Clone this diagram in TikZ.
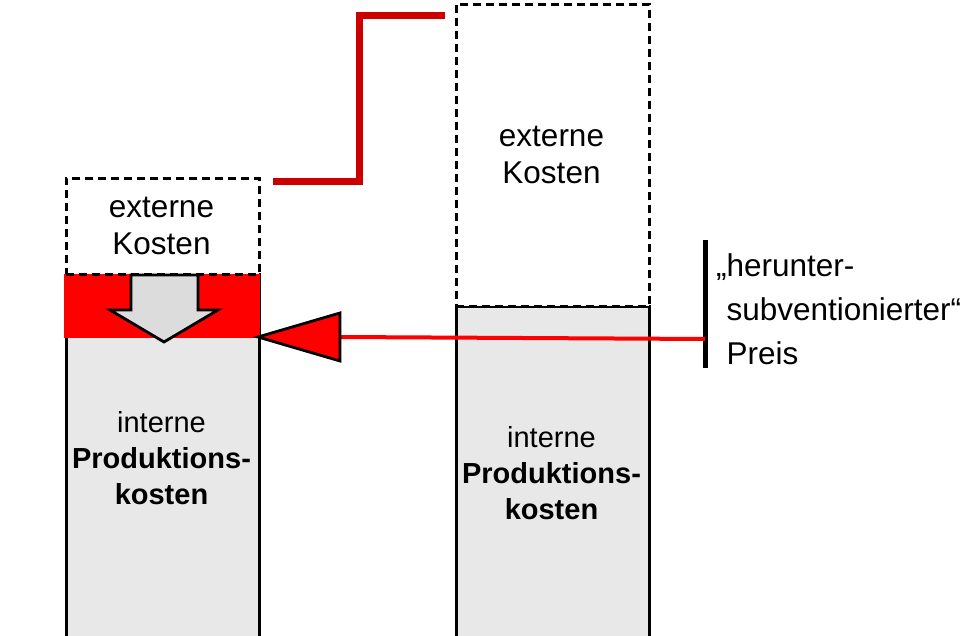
\documentclass[tikz,border=0pt]{standalone}
\usepackage{fontspec}
\setmainfont{Liberation Sans}
\definecolor{boxgray}{HTML}{E8E8E8}
\definecolor{arrowgray}{HTML}{DCDCDC}
\definecolor{stepred}{HTML}{CC0000}
\definecolor{brightred}{HTML}{FF0000}
\begin{document}
\begin{tikzpicture}[x=1pt,y=-1pt,
  graybox/.style={draw=black, line width=2.8pt, fill=boxgray, inner sep=0pt, anchor=north west},
  dashbox/.style={draw=black, line width=2.7pt, dash pattern=on 8pt off 5pt, fill=white, inner sep=0pt, anchor=north west},
  extxt/.style={font=\fontsize{31.5}{37}\selectfont, align=center},
  intxt/.style={font=\fontsize{29}{36}\selectfont, align=center},
  lbltxt/.style={font=\fontsize{31.5}{44}\selectfont, align=left, anchor=west}]
\useasboundingbox (0,0) rectangle (978,636);

% gray boxes (internal production costs)
\node[graybox, minimum width=193pt, minimum height=380pt] (lgray) at (65,273) {};
\node[graybox, minimum width=193pt, minimum height=350pt] (rgray) at (455,305) {};

% red band
\node[fill=brightred, inner sep=0pt, anchor=north west, minimum width=196pt, minimum height=64pt] (lred) at (63.5,274) {};

% dashed boxes (external costs)
\node[dashbox, minimum width=193pt, minimum height=96pt] (lext) at (65,177) {};
\node[dashbox, minimum width=193pt, minimum height=302pt] (rext) at (455,3) {};

% texts
\node[extxt] (lexttxt) at (161.5,226) {externe\\Kosten};
\node[extxt] (rexttxt) at (551.5,155) {externe\\Kosten};
\node[intxt] (linttxt) at (161.5,458) {interne\\\textbf{Produktions-}\\\textbf{kosten}};
\node[intxt] (rinttxt) at (551.5,473.5) {interne\\\textbf{Produktions-}\\\textbf{kosten}};

% down block arrow
\draw[line width=2.8pt, fill=arrowgray, line join=miter]
  (131,275) -- (131,310) -- (110,310) -- (164,342) -- (218,310) -- (198,310) -- (198,275) -- cycle;

% step line
\coordinate (stepa) at (273,182);
\coordinate (stepb) at (445,16);
\draw[stepred, line width=7pt, line join=miter] (stepa) -| (359,16) -- (stepb);

% price bar and label
\coordinate (bartop) at (705,240);
\coordinate (barbot) at (705,368);
\coordinate (bar) at (705,339);
\draw[line width=5pt] (bartop) -- (barbot);
\node[lbltxt] (lbl) at (723,309) {\llap{„}herunter-\\subventionierter“\\Preis};

% red pointer
\coordinate (tip) at (258,337);
\coordinate (back) at (340,337);
\draw[brightred, line width=4pt] (back) -- (bar);
\draw[line width=2.8pt, fill=brightred, line join=miter] (tip) -- (340,313) -- (340,361) -- cycle;
\end{tikzpicture}
\end{document}
